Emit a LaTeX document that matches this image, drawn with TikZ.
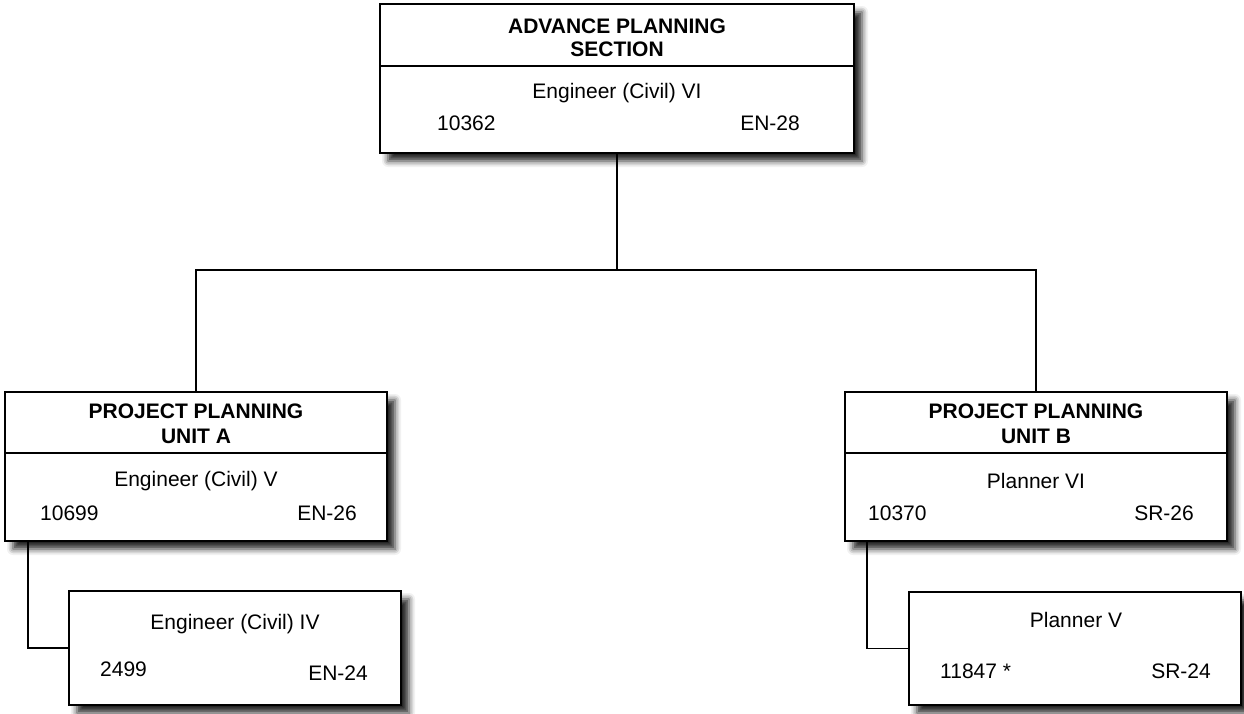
\documentclass[tikz,border=0pt]{standalone}
\usepackage{fontspec}
\setmainfont{Liberation Sans}
\usetikzlibrary{shadows.blur}
\begin{document}
\begin{tikzpicture}[x=1pt,y=-1pt,
  box/.style={draw=black, line width=2pt, fill=white, anchor=north west, inner sep=0pt, outer sep=0pt,
    blur shadow={shadow xshift=8pt, shadow yshift=-8pt, shadow blur radius=6pt, shadow opacity=85}},
  txt/.style={inner sep=0pt, font=\fontsize{21}{25}\selectfont},
  link/.style={draw=black, line width=1.6pt}]
\useasboundingbox (0,0) rectangle (1244,713);
% boxes
\node[box, minimum width=474pt, minimum height=149pt] (top) at (380,4) {};
\node[box, minimum width=382pt, minimum height=149pt] (ua) at (5,392) {};
\node[box, minimum width=382pt, minimum height=149pt] (ub) at (845,392) {};
\node[box, minimum width=332pt, minimum height=114pt] (sa) at (69,591) {};
\node[box, minimum width=332pt, minimum height=113pt] (sb) at (909,592) {};
% dividers
\draw[line width=1.6pt] (380,66) -- (854,66);
\draw[line width=1.6pt] (5,453) -- (387,453);
\draw[line width=1.6pt] (845,453) -- (1227,453);
% top texts
\node[txt] (t1) at (617,26) {\bfseries ADVANCE PLANNING};
\node[txt] (t2) at (617,49) {\bfseries SECTION};
\node[txt] (t3) at (617,93) {Engineer (Civil) VI};
\node[txt, anchor=west] (t4) at (437,123) {10362};
\node[txt, anchor=east] (t5) at (800,123) {EN-28};
% unit A
\node[txt] (a1) at (196,411) {\bfseries PROJECT PLANNING};
\node[txt] (a2) at (196,436) {\bfseries UNIT A};
\node[txt] (a3) at (196,481) {Engineer (Civil) V};
\node[txt, anchor=west] (a4) at (40,513) {10699};
\node[txt, anchor=east] (a5) at (357,513) {EN-26};
% unit B
\node[txt] (b1) at (1036,411) {\bfseries PROJECT PLANNING};
\node[txt] (b2) at (1036,436) {\bfseries UNIT B};
\node[txt] (b3) at (1036,481) {Planner VI};
\node[txt, anchor=west] (b4) at (868,513) {10370};
\node[txt, anchor=east] (b5) at (1194,513) {SR-26};
% sub A
\node[txt] (c1) at (235,624) {Engineer (Civil) IV};
\node[txt, anchor=west] (c2) at (100,669) {2499};
\node[txt, anchor=east] (c3) at (368,673) {EN-24};
% sub B
\node[txt] (d1) at (1076,620) {Planner V};
\node[txt, anchor=west] (d2) at (940,671) {11847 *};
\node[txt, anchor=east] (d3) at (1211,671) {SR-24};
% connectors
\coordinate (j) at (617,270);
\draw[link] (top.south) -- (j);
\draw[link] (j) -| (ua.north);
\draw[link] (j) -| (ub.north);
\draw[link] (28,541) |- (sa.west);
\draw[link] (867,541) |- (sb.west);
\end{tikzpicture}
\end{document}
